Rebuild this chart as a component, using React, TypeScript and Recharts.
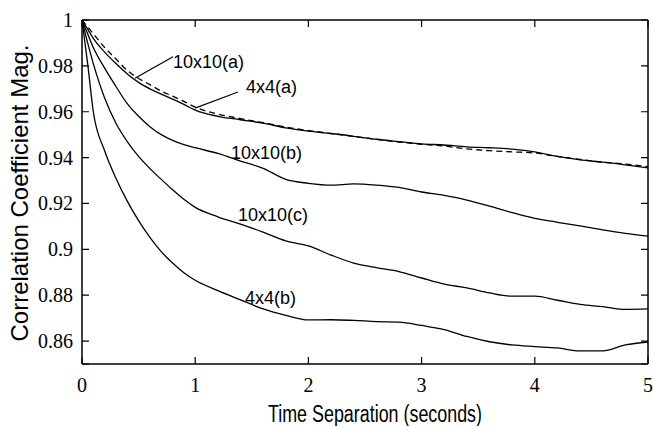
import { LineChart, Line, XAxis, YAxis, CartesianGrid, ReferenceLine, ReferenceDot } from 'recharts';

const times = [0, 0.05, 0.1, 0.2, 0.3, 0.4, 0.5, 0.6, 0.7, 0.8, 0.9, 1.0, 1.2, 1.4, 1.6, 1.8, 2.0, 2.2, 2.4, 2.6, 2.8, 3.0, 3.2, 3.4, 3.6, 3.8, 4.0, 4.2, 4.4, 4.6, 4.8, 5.0];

const s10x10a = [1, 0.997, 0.994, 0.988, 0.983, 0.978, 0.9745, 0.9718, 0.969, 0.9668, 0.9645, 0.962, 0.959, 0.957, 0.9552, 0.9533, 0.9518, 0.9505, 0.9492, 0.948, 0.9468, 0.9458, 0.945, 0.9438, 0.943, 0.9425, 0.942, 0.9405, 0.9392, 0.938, 0.9372, 0.936];
const s4x4a = [1, 0.996, 0.992, 0.986, 0.981, 0.9765, 0.9728, 0.97, 0.9677, 0.9655, 0.9632, 0.9607, 0.958, 0.9565, 0.955, 0.953, 0.9515, 0.9505, 0.9493, 0.948, 0.947, 0.946, 0.9455, 0.9447, 0.9443, 0.9437, 0.9425, 0.9405, 0.939, 0.938, 0.9368, 0.9355];
const s10x10b = [1, 0.994, 0.988, 0.979, 0.971, 0.9635, 0.958, 0.9535, 0.95, 0.9475, 0.9457, 0.9443, 0.9418, 0.9385, 0.9353, 0.9305, 0.9288, 0.928, 0.9285, 0.928, 0.927, 0.925, 0.9235, 0.9215, 0.9188, 0.916, 0.9135, 0.9118, 0.9102, 0.9085, 0.907, 0.9058];
const s10x10c = [1, 0.99, 0.981, 0.966, 0.955, 0.947, 0.9405, 0.9352, 0.9305, 0.926, 0.9218, 0.9183, 0.9142, 0.911, 0.9075, 0.9037, 0.9015, 0.8975, 0.894, 0.892, 0.8903, 0.8875, 0.8848, 0.8832, 0.881, 0.8796, 0.8796, 0.8778, 0.876, 0.875, 0.8738, 0.874];
const s4x4b = [1, 0.981, 0.96, 0.943, 0.931, 0.921, 0.9125, 0.9052, 0.899, 0.894, 0.8898, 0.8865, 0.882, 0.878, 0.874, 0.8712, 0.8692, 0.8693, 0.869, 0.8685, 0.8683, 0.8668, 0.865, 0.862, 0.8597, 0.8583, 0.8576, 0.857, 0.8557, 0.8557, 0.8583, 0.8596];

const xTicks = [0, 1, 2, 3, 4, 5];
const yTicks = [0.86, 0.88, 0.9, 0.92, 0.94, 0.96, 0.98, 1];
const xDomain = [0, 5];
const yDomain = [0.85, 1];

// curve labels: [text, t, value] at the left/middle of the text
const curveLabels: [string, number, number][] = [
  ['10x10(a)', 0.804, 0.9817],
  ['4x4(a)', 1.449, 0.9708],
  ['10x10(b)', 1.316, 0.9424],
  ['10x10(c)', 1.378, 0.915],
  ['4x4(b)', 1.44, 0.8792],
];
const leaders = [
  [{ x: 0.468, y: 0.9746 }, { x: 0.804, y: 0.984 }],
  [{ x: 0.998, y: 0.9616 }, { x: 1.378, y: 0.9686 }],
];

const data = times.map((t, i) => ({
  t,
  a10: s10x10a[i],
  a4: s4x4a[i],
  b10: s10x10b[i],
  c10: s10x10c[i],
  b4: s4x4b[i],
}));

const serif = '"Liberation Serif", "Times New Roman", serif';
const sans = '"Liberation Sans", Arial, Helvetica, sans-serif';

const bottomTick = ({ x, y, payload }: any) => (
  <text x={x} y={y + 28} textAnchor="middle" fontFamily={serif} fontSize={20} fill="#000">
    {String(payload.value)}
  </text>
);
const leftTick = ({ x, y, payload }: any) => (
  <text x={x - 9} y={y + 7} textAnchor="end" fontFamily={serif} fontSize={20} fill="#000">
    {String(payload.value)}
  </text>
);
const noLabel = () => <g />;

const XTitle = () => (
  <text x={375} y={422} textAnchor="middle" fontFamily={sans} fontSize={23} fill="#000" textLength={214} lengthAdjust="spacingAndGlyphs">
    Time Separation (seconds)
  </text>
);
const YTitle = () => (
  <text x={28} y={193} transform="rotate(-90 28 193)" textAnchor="middle" fontFamily={sans} fontSize={24} fill="#000">
    Correlation Coefficient Mag.
  </text>
);

const axisLine = { stroke: '#000', strokeWidth: 1.5 };

// plot box is 566 x 344 px: grid lines dashed so only 7px stubs show at each end (inward ticks)
const PLOT_W = 566;
const PLOT_H = 344;

export default function App() {
  return (
    <div style={{ position: 'absolute', left: 0, top: 0, background: '#fff' }}>
      <LineChart width={653} height={426} data={data} margin={{ top: 19, right: 4, bottom: 61, left: 81 }}>
        <CartesianGrid
          horizontal={false}
          stroke="#000"
          strokeWidth={1.2}
          strokeDasharray={`7 ${PLOT_H - 14} 7 ${PLOT_H}`}
        />
        <CartesianGrid
          vertical={false}
          stroke="#000"
          strokeWidth={1.2}
          strokeDasharray={`7 ${PLOT_W - 14} 7 ${PLOT_W}`}
        />
        <XAxis
          dataKey="t"
          type="number"
          domain={xDomain}
          ticks={xTicks}
          allowDataOverflow
          height={1}
          tickSize={0}
          tickMargin={0}
          tickLine={false}
          tick={bottomTick}
          axisLine={axisLine}
          label={<XTitle />}
        />
        <XAxis
          xAxisId="top"
          dataKey="t"
          orientation="top"
          type="number"
          domain={xDomain}
          ticks={xTicks}
          allowDataOverflow
          height={1}
          tickSize={0}
          tickLine={false}
          tick={noLabel}
          axisLine={axisLine}
        />
        <YAxis
          type="number"
          domain={yDomain}
          ticks={yTicks}
          allowDataOverflow
          width={1}
          tickSize={0}
          tickMargin={0}
          tickLine={false}
          tick={leftTick}
          axisLine={axisLine}
          label={<YTitle />}
        />
        <YAxis
          yAxisId="right"
          orientation="right"
          type="number"
          domain={yDomain}
          ticks={yTicks}
          allowDataOverflow
          width={1}
          tickSize={0}
          tickLine={false}
          tick={noLabel}
          axisLine={axisLine}
        />
        <Line type="monotone" dataKey="a10" stroke="#000" strokeWidth={1.3} strokeDasharray="6 4" dot={false} isAnimationActive={false} />
        <Line type="monotone" dataKey="a4" stroke="#000" strokeWidth={1.3} dot={false} isAnimationActive={false} />
        <Line type="monotone" dataKey="b10" stroke="#000" strokeWidth={1.3} dot={false} isAnimationActive={false} />
        <Line type="monotone" dataKey="c10" stroke="#000" strokeWidth={1.3} dot={false} isAnimationActive={false} />
        <Line type="monotone" dataKey="b4" stroke="#000" strokeWidth={1.3} dot={false} isAnimationActive={false} />
        {/* hidden series so the top and right axes get drawn */}
        <Line xAxisId="top" yAxisId="right" dataKey="a4" stroke="none" dot={false} legendType="none" isAnimationActive={false} />
        {leaders.map((seg, i) => (
          <ReferenceLine key={i} segment={seg} stroke="#000" strokeWidth={1.2} />
        ))}
        {curveLabels.map(([txt, t, v]) => (
          <ReferenceDot
            key={txt}
            x={t}
            y={v}
            r={0}
            fill="none"
            stroke="none"
            label={{
              content: (p: any) => (
                <text x={p.viewBox.x} y={p.viewBox.y + 6.5} fontFamily={sans} fontSize={18} fill="#000">
                  {txt}
                </text>
              ),
            }}
          />
        ))}
      </LineChart>
    </div>
  );
}
